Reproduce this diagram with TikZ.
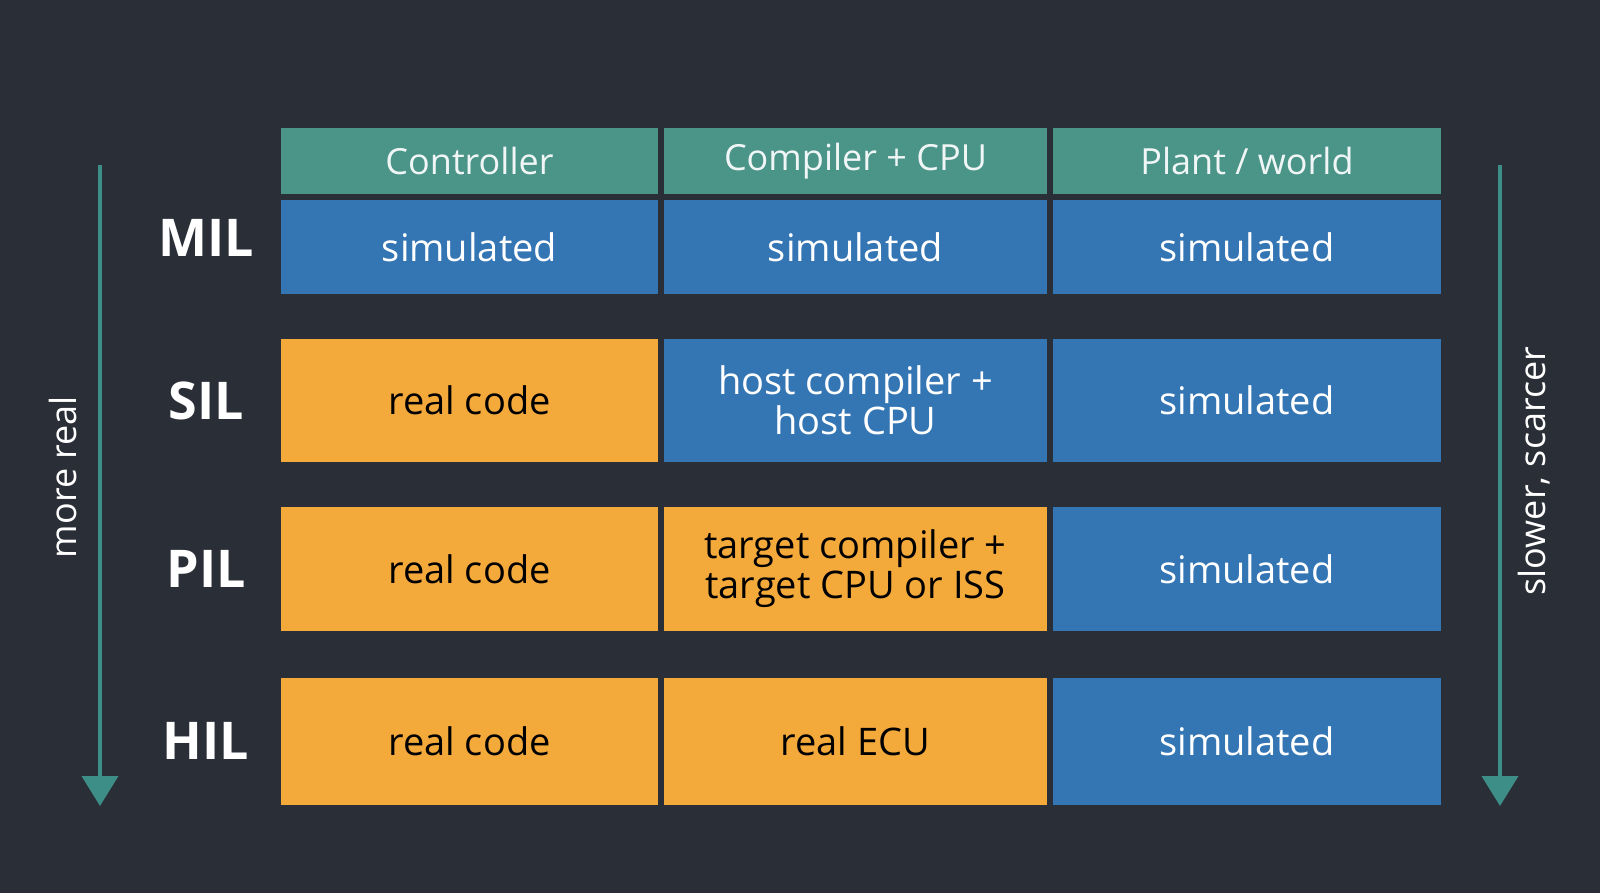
\documentclass[tikz,border=0pt]{standalone}
\usepackage{fontspec}
\setmainfont{Open Sans}
\usetikzlibrary{arrows.meta}
\definecolor{bg}{HTML}{2A2E37}
\definecolor{teal}{HTML}{4A9488}
\definecolor{blu}{HTML}{3475B4}
\definecolor{org}{HTML}{F4A93B}
\definecolor{arr}{HTML}{3E8E88}
\tikzset{
 cell/.style={inner sep=0pt,align=center,font=\fontsize{38}{40}\selectfont},
 hdr/.style={cell,fill=teal,text=white!92!teal,font=\fontsize{36}{40}\selectfont},
 sim/.style={cell,fill=blu,text=white},
 real/.style={cell,fill=org,text=black},
 lab/.style={text=white,font=\bfseries\fontsize{52}{56}\selectfont},
 side/.style={text=white,rotate=90,font=\fontsize{36}{40}\selectfont},
 bigarrow/.style={draw=arr,line width=4pt,-{Triangle[width=36pt,length=30pt]}}
}
\newcommand{\cellat}[6]{\fill[#1] (#2,#3) rectangle (#4,#5); \node[#1] at ({(#2+#4)/2},{(#3+#5)/2}) {#6};}
\begin{document}
\begin{tikzpicture}[x=1pt,y=-1pt]
\fill[bg] (0,0) rectangle (1600,893);
\useasboundingbox (0,0) rectangle (1600,893);
% header
\node[hdr,minimum width=377pt,minimum height=66pt] (h1) at (469.5,161) {Controller};
\node[hdr,minimum width=383pt,minimum height=66pt] (h2) at (855.5,161) {Compiler + CPU};
\node[hdr,minimum width=388pt,minimum height=66pt] (h3) at (1247,161) {Plant / world};
% MIL
\node[sim,minimum width=377pt,minimum height=94pt] (m1) at (469.5,247) {simulated};
\node[sim,minimum width=383pt,minimum height=94pt] (m2) at (855.5,247) {simulated};
\node[sim,minimum width=388pt,minimum height=94pt] (m3) at (1247,247) {simulated};
% SIL
\node[real,minimum width=377pt,minimum height=123pt] (s1) at (469.5,400.5) {real code};
\node[sim,minimum width=383pt,minimum height=123pt] (s2) at (855.5,400.5) {host compiler +\\host CPU};
\node[sim,minimum width=388pt,minimum height=123pt] (s3) at (1247,400.5) {simulated};
% PIL
\node[real,minimum width=377pt,minimum height=124pt] (p1) at (469.5,569) {real code};
\node[real,minimum width=383pt,minimum height=124pt] (p2) at (855.5,569) {target compiler +\\target CPU or ISS};
\node[sim,minimum width=388pt,minimum height=124pt] (p3) at (1247,569) {simulated};
% HIL
\node[real,minimum width=377pt,minimum height=127pt] (r1) at (469.5,741.5) {real code};
\node[real,minimum width=383pt,minimum height=127pt] (r2) at (855.5,741.5) {real ECU};
\node[sim,minimum width=388pt,minimum height=127pt] (r3) at (1247,741.5) {simulated};
% labels
\node[lab] (lm) at (206,238) {MIL};
\node[lab] (ls) at (206,401) {SIL};
\node[lab] (lp) at (206,569) {PIL};
\node[lab] (lh) at (206,741) {HIL};
% arrows
\coordinate (a1) at (100,165); \coordinate (a2) at (100,806);
\coordinate (b1) at (1500,165); \coordinate (b2) at (1500,806);
\draw[bigarrow] (a1) -- (a2);
\draw[bigarrow] (b1) -- (b2);
\node[side] (mr) at (63,477) {more real};
\node[side] (ss) at (1534,471) {slower, scarcer};
\end{tikzpicture}
\end{document}
